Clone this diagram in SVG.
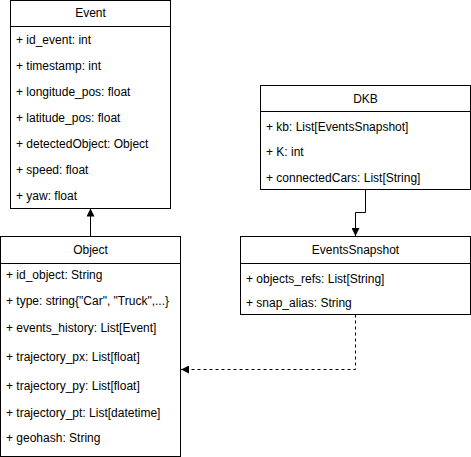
<svg xmlns="http://www.w3.org/2000/svg" width="471" height="457" viewBox="0 0 471 457">
<style>
.box{fill:#fff;stroke:#000;stroke-width:1}
.ln{stroke:#000;stroke-width:1;fill:none}
.t{font-family:"Liberation Sans",Arial,sans-serif;font-size:12px;fill:#000}
.c{text-anchor:middle}
</style>
<defs>
<marker id="ah" viewBox="0 0 10 10" refX="10" refY="5" markerWidth="8" markerHeight="8" markerUnits="userSpaceOnUse" orient="auto">
<path d="M0,0 L10,5 L0,10 Z" fill="#000"/>
</marker>
</defs>
<rect width="471" height="457" fill="#fff"/>
<g id="connectors">
<path class="ln" d="M90.5,236.5 V208.5" marker-end="url(#ah)"/>
<path class="ln" d="M365.5,189.5 V212.5 H355.5 V236" marker-end="url(#ah)"/>
<path class="ln" d="M355.5,314.5 V369.5 H181" stroke-dasharray="3,3" marker-end="url(#ah)"/>
</g>
<g id="Event">
<rect class="box" x="10.5" y="0.5" width="160" height="208"/>
<path class="ln" d="M10.5,26.5 H170.5"/>
<text class="t c" x="90.5" y="17">Event</text>
<text class="t" x="16" y="44">+ id_event: int</text>
<text class="t" x="16" y="70">+ timestamp: int</text>
<text class="t" x="16" y="96">+ longitude_pos: float</text>
<text class="t" x="16" y="122">+ latitude_pos: float</text>
<text class="t" x="16" y="148">+ detectedObject: Object</text>
<text class="t" x="16" y="174">+ speed: float</text>
<text class="t" x="16" y="200">+ yaw: float</text>
</g>
<g id="Object">
<rect class="box" x="0.5" y="236.5" width="180" height="220"/>
<path class="ln" d="M0.5,263.5 H180.5"/>
<text class="t c" x="90.5" y="254">Object</text>
<text class="t" x="6" y="279">+ id_object: String</text>
<text class="t" x="6" y="305">+ type: string{"Car", "Truck",...}</text>
<text class="t" x="6" y="332">+ events_history: List[Event]</text>
<text class="t" x="6" y="361">+ trajectory_px: List[float]</text>
<text class="t" x="6" y="390">+ trajectory_py: List[float]</text>
<text class="t" x="6" y="417">+ trajectory_pt: List[datetime]</text>
<text class="t" x="6" y="442">+ geohash: String</text>
</g>
<g id="DKB">
<rect class="box" x="260.5" y="85.5" width="210" height="104"/>
<path class="ln" d="M260.5,111.5 H470.5"/>
<text class="t c" x="365.5" y="103">DKB</text>
<text class="t" x="266" y="131">+ kb: List[EventsSnapshot]</text>
<text class="t" x="266" y="156">+ K: int</text>
<text class="t" x="266" y="182">+ connectedCars: List[String]</text>
</g>
<g id="EventsSnapshot">
<rect class="box" x="240.5" y="236.5" width="230" height="78"/>
<path class="ln" d="M240.5,263.5 H470.5"/>
<text class="t c" x="355.5" y="254">EventsSnapshot</text>
<text class="t" x="246" y="283">+ objects_refs: List[String]</text>
<text class="t" x="246" y="307">+ snap_alias: String</text>
</g>
</svg>
